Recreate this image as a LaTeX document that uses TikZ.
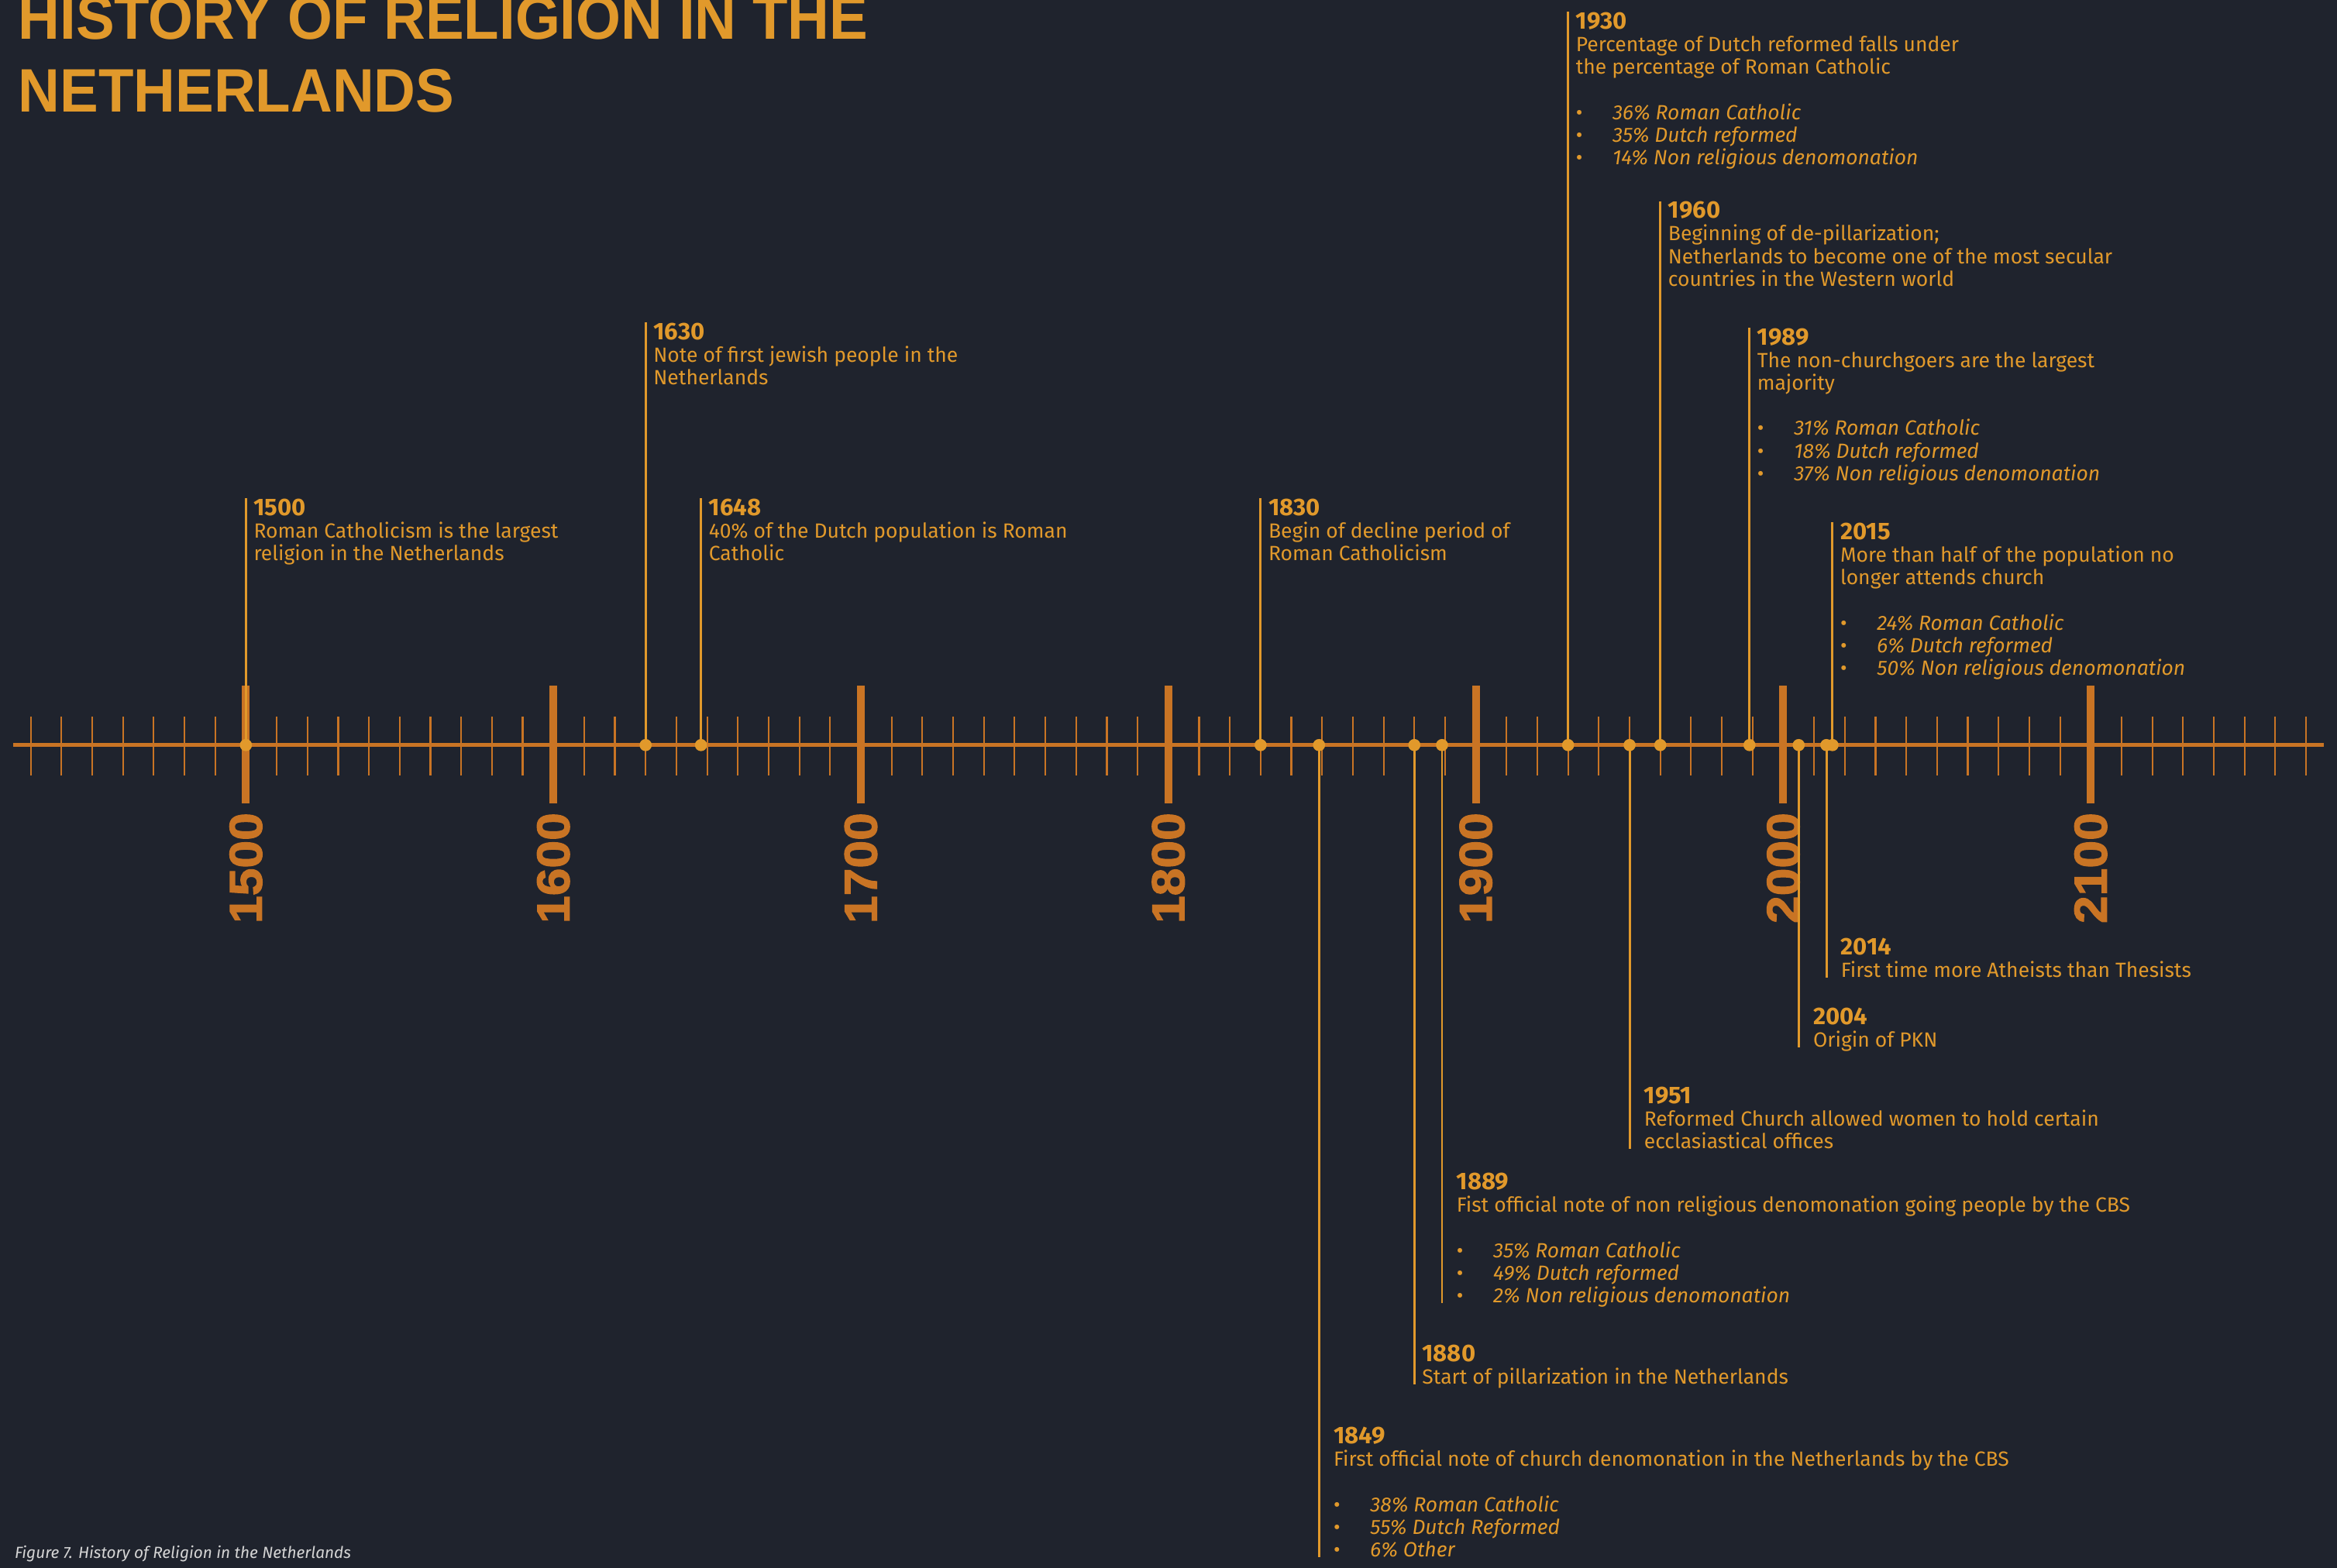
\documentclass[tikz,border=0pt]{standalone}
\usepackage{fontspec}
\usepackage{xcolor}
\setmainfont{Fira Sans}
\newfontfamily\TitleFont{Liberation Sans}[FakeStretch=0.94]
\newfontfamily\CenturyFont{Liberation Sans Bold}[FakeStretch=1.08,FakeBold=2]
\definecolor{bgdark}{HTML}{1F232D}
\definecolor{axisorange}{HTML}{C97424}
\definecolor{gold}{HTML}{E1992B}
\definecolor{captiongray}{HTML}{D5D5D5}
\newcommand{\YearFont}{\fontsize{11.5}{10.8}\bfseries\selectfont}
\newcommand{\PctItem}[1]{\makebox[17.5pt][l]{\textbullet}\textit{#1}}
\newcommand{\TimeAxis}{%
  \draw[axisorange,line width=2pt] (9,500) -- (1559,500);
  \foreach \dec in {1430,1440,...,2170} {
    \draw[axisorange,line width=0.8pt] ({165+(\dec-1500)*2.063},481) -- ++(0,39.5);
  }
  \foreach \cen in {1500,1600,...,2100} {
    \draw[axisorange,line width=3.7pt] ({165+(\cen-1500)*2.063},460) -- ++(0,79);
    \node[century] (c\cen) at ({165+(\cen-1500)*2.063},620) {\cen};
  }
}
% #1 name, #2 position on the axis, #3 top of the text, #4 year, #5 text
\newcommand{\EventUp}[5]{%
  \node[dot] (d#1) at ({165+(#2-1500)*2.063},500) {};
  \node[eventtext,anchor=north west] (t#1) at ({165+(#2-1500)*2.063+5},#3)
    {{\YearFont #4}\\#5};
  \draw[eventline] (d#1.center) -- (d#1.center |- t#1.north);
}
% [#1 gap] #2 name, #3 position on the axis, #4 last baseline, #5 year, #6 text
\newcommand{\EventDown}[6][9.5]{%
  \node[dot] (d#2) at ({165+(#3-1500)*2.063},500) {};
  \node[eventtext,anchor=south west,text depth=0pt] (t#2) at ({165+(#3-1500)*2.063+#1},#4)
    {{\YearFont #5}\\#6};
  \draw[eventline] (d#2.center) -- (d#2.center |- t#2.south);
}

\begin{document}
\begin{tikzpicture}[x=0.25mm,y=-0.25mm,
    dot/.style={circle,fill=gold,inner sep=0pt,minimum size=5.8pt},
    eventline/.style={gold,line width=1.1pt},
    eventtext/.style={text=gold,align=left,inner sep=0pt,
      font=\fontsize{9.8}{10.8}\selectfont},
    century/.style={text=axisorange,rotate=90,anchor=west,inner sep=0pt,
      font=\CenturyFont\fontsize{22}{22}\selectfont},
    titletext/.style={text=gold,align=left,inner sep=0pt,
      font=\TitleFont\bfseries\fontsize{29.3}{35}\selectfont},
    captiontext/.style={text=captiongray,inner sep=0pt,
      font=\fontsize{7.7}{9}\selectfont\itshape}]
  \fill[bgdark] (0,0) rectangle (1568,1052);
  \useasboundingbox (0,0) rectangle (1568,1052);
  \clip (0,0) rectangle (1568,1052);

  % title
  \node[titletext,anchor=south west] (title) at (12,76)
    {HISTORY OF RELIGION IN THE\\NETHERLANDS};

  \TimeAxis

  % events above the axis
  \EventUp{a}{1500}{334.5}{1500}{Roman Catholicism is the largest\\religion in the Netherlands}
  \EventUp{b}{1630}{216.5}{1630}{Note of first jewish people in the\\Netherlands}
  \EventUp{c}{1648}{334.5}{1648}{40\% of the Dutch population is Roman\\Catholic}
  \EventUp{d}{1830}{334.5}{1830}{Begin of decline period of\\Roman Catholicism}
  \EventUp{e}{1930}{8}{1930}{Percentage of Dutch reformed falls under\\the percentage of Roman Catholic\\[10.8pt]%
    \PctItem{36\% Roman Catholic}\\\PctItem{35\% Dutch reformed}\\\PctItem{14\% Non religious denomonation}}
  \EventUp{f}{1960}{135}{1960}{Beginning of de-pillarization;\\Netherlands to become one of the most secular\\countries in the Western world}
  \EventUp{g}{1989}{220}{1989}{The non-churchgoers are the largest\\majority\\[10.8pt]%
    \PctItem{31\% Roman Catholic}\\\PctItem{18\% Dutch reformed}\\\PctItem{37\% Non religious denomonation}}
  \EventUp{h}{2016}{350.5}{2015}{More than half of the population no\\longer attends church\\[10.8pt]%
    \PctItem{24\% Roman Catholic}\\\PctItem{6\% Dutch reformed}\\\PctItem{50\% Non religious denomonation}}

  % events below the axis
  \EventDown{i}{1849}{1045}{1849}{First official note of church denomonation in the Netherlands by the CBS\\[10.8pt]%
    \PctItem{38\% Roman Catholic}\\\PctItem{55\% Dutch Reformed}\\\PctItem{6\% Other}}
  \EventDown[5]{j}{1880}{929}{1880}{Start of pillarization in the Netherlands}
  \EventDown{k}{1889}{874.5}{1889}{Fist official note of non religious denomonation going people by the CBS\\[10.8pt]%
    \PctItem{35\% Roman Catholic}\\\PctItem{49\% Dutch reformed}\\\PctItem{2\% Non religious denomonation}}
  \EventDown{l}{1950}{771}{1951}{Reformed Church allowed women to hold certain\\ecclasiastical offices}
  \EventDown{m}{2005}{703}{2004}{Origin of PKN}
  \EventDown{n}{2014}{656}{2014}{First time more Atheists than Thesists}

  % caption
  \node[captiontext,anchor=base west] (fig) at (9.6,1046)
    {Figure 7. History of Religion in the Netherlands};
\end{tikzpicture}
\end{document}
